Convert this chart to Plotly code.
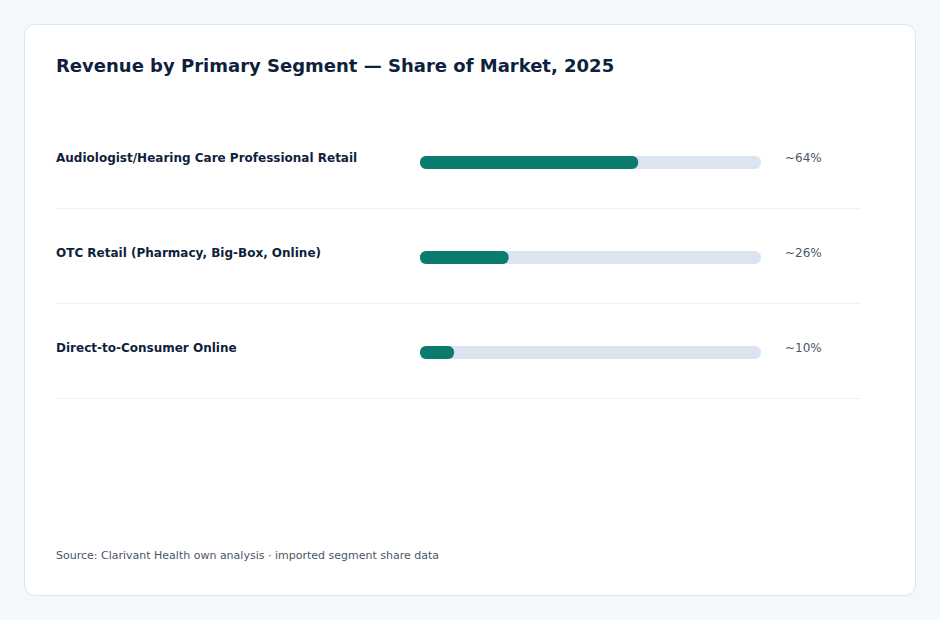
import plotly.graph_objects as go

W, H = 940, 620

segments = [
    "Audiologist/Hearing Care Professional Retail",
    "OTC Retail (Pharmacy, Big-Box, Online)",
    "Direct-to-Consumer Online",
]
shares = [64, 26, 10]
value_labels = ["~64%", "~26%", "~10%"]
track_max = [100, 100, 100]

title = "Revenue by Primary Segment \u2014 Share of Market, 2025"
source = "Source: Clarivant Health own analysis \u00b7 imported segment share data"

FONT = "DejaVu Sans, Verdana, sans-serif"
TEAL = "#0b7b6e"
TRACK = "#dce5ef"
DARK = "#0f1f3d"
MUTED = "#4a5568"

def px(x):
    return x / W

def py(y):
    return 1 - y / H

row0, row_step = 162.5, 95
y_top = -row0 / row_step
y_bot = (H - row0) / row_step
bw = 13 / row_step

fig = go.Figure()

def add_rounded(values, color):
    # explicit base -> plotly rounds both ends of the bar
    fig.add_trace(go.Bar(x=values, base=[0] * len(values), y=segments, orientation="h",
                         marker=dict(color=color, line=dict(width=0)), width=bw,
                         hoverinfo="skip", showlegend=False))

add_rounded(track_max, TRACK)
add_rounded(shares, TEAL)

x0, y0, x1, y1, r = 24.5, 24.5, 915.5, 595.5, 12
rx, ry = r / W, r / H
path = (
    f"M {px(x0)+rx},{py(y0)} L {px(x1)-rx},{py(y0)} Q {px(x1)},{py(y0)} {px(x1)},{py(y0)-ry} "
    f"L {px(x1)},{py(y1)+ry} Q {px(x1)},{py(y1)} {px(x1)-rx},{py(y1)} "
    f"L {px(x0)+rx},{py(y1)} Q {px(x0)},{py(y1)} {px(x0)},{py(y1)+ry} "
    f"L {px(x0)},{py(y0)-ry} Q {px(x0)},{py(y0)} {px(x0)+rx},{py(y0)} Z"
)
shapes = [dict(type="path", xref="paper", yref="paper", path=path,
               fillcolor="#ffffff", line=dict(color="#dfe3e8", width=1), layer="below")]
for i in range(len(segments)):
    yy = 208.5 + row_step * i
    shapes.append(dict(type="line", xref="paper", yref="paper",
                       x0=px(56), x1=px(861), y0=py(yy), y1=py(yy),
                       line=dict(color="#eef1f5", width=1), layer="below"))

annotations = [
    dict(text=f"<b>{title}</b>", xref="paper", yref="paper", x=px(56), y=py(65),
         xshift=-2, xanchor="left", yanchor="middle", showarrow=False,
         font=dict(family=FONT, size=18, color=DARK)),
    dict(text=source, xref="paper", yref="paper", x=px(56), y=py(555),
         xshift=-2, xanchor="left", yanchor="middle", showarrow=False,
         font=dict(family=FONT, size=11, color=MUTED)),
]
for seg, lab in zip(segments, value_labels):
    annotations.append(dict(text=f"<b>{seg}</b>", xref="paper", yref="y", x=px(56), y=seg,
                            xshift=-2, yshift=5, xanchor="left", yanchor="middle", showarrow=False,
                            font=dict(family=FONT, size=12, color=DARK)))
    annotations.append(dict(text=lab, xref="paper", yref="y", x=px(785), y=seg,
                            xshift=-2, yshift=5, xanchor="left", yanchor="middle", showarrow=False,
                            font=dict(family=FONT, size=12, color=MUTED)))

fig.update_layout(
    width=W, height=H, margin=dict(l=0, r=0, t=0, b=0),
    paper_bgcolor="#f5f8fb", plot_bgcolor="rgba(0,0,0,0)",
    barmode="overlay", barcornerradius=6,
    xaxis=dict(domain=[px(420), px(761)], range=[0, 100], visible=False, fixedrange=True),
    yaxis=dict(domain=[0, 1], type="category", categoryorder="array", categoryarray=segments,
               range=[y_bot, y_top], visible=False, fixedrange=True),
    shapes=shapes, annotations=annotations, showlegend=False,
)

fig.write_html("out.html", config={"displayModeBar": False})
